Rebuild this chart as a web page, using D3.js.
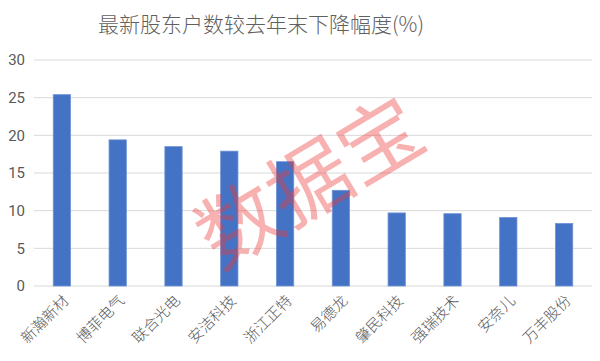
<!DOCTYPE html>
<html>
<head>
<meta charset="utf-8">
<script src="https://cdn.jsdelivr.net/npm/d3@7"></script>
<style>
  body { margin: 0; background: #fff; }
  svg { display: block; font-family: "Noto Sans CJK SC", "Noto Sans", sans-serif; }
</style>
</head>
<body>
<svg id="chart" width="600" height="361"></svg>
<script>
// data
const stocks = ["新瀚新材", "博菲电气", "联合光电", "安洁科技", "浙江正特", "易德龙", "肇民科技", "强瑞技术", "安奈儿", "万丰股份"];
const drops = [25.4, 19.4, 18.5, 17.9, 16.5, 12.7, 9.7, 9.6, 9.1, 8.3];
const yTicks = [0, 5, 10, 15, 20, 25, 30];

const svg = d3.select("#chart");
const margin = { top: 60, right: 8, bottom: 75, left: 34 };
const width = 600 - margin.left - margin.right;
const height = 361 - margin.top - margin.bottom;

const g = svg.append("g").attr("transform", `translate(${margin.left},${margin.top})`);

const x = d3.scaleBand().domain(stocks).range([0, width]).paddingInner(0.69).paddingOuter(0.345);
const y = d3.scaleLinear().domain([0, 30]).range([height, 0]);

// gridlines
g.append("g")
  .selectAll("line")
  .data(yTicks)
  .join("line")
  .attr("x1", 0)
  .attr("x2", width)
  .attr("y1", d => y(d))
  .attr("y2", d => y(d))
  .attr("stroke", "#d9d9d9")
  .attr("stroke-width", 1);

// y tick labels
g.append("g")
  .selectAll("text")
  .data(yTicks)
  .join("text")
  .attr("x", -9)
  .attr("y", d => y(d))
  .attr("dy", "0.35em")
  .attr("text-anchor", "end")
  .attr("fill", "#595959")
  .style("font-family", "Roboto, 'Noto Sans', sans-serif")
  .style("font-size", "15px")
  .text(d => d);

// bars
g.append("g")
  .selectAll("rect")
  .data(drops)
  .join("rect")
  .attr("x", (d, i) => x(stocks[i]))
  .attr("y", d => y(d))
  .attr("width", x.bandwidth())
  .attr("height", d => height - y(d))
  .attr("fill", "#4472c4")
  .attr("stroke", "#6f93d6")
  .attr("stroke-width", 0.8);

// x labels, rotated
g.append("g")
  .selectAll("text")
  .data(stocks)
  .join("text")
  .attr("transform", d => `translate(${x(d) + x.bandwidth() / 2 + 4},${height + 12}) rotate(-45)`)
  .attr("text-anchor", "end")
  .attr("dy", "0.35em")
  .attr("fill", "#595959")
  .style("font-size", "15px")
  .style("font-weight", 300)
  .text(d => d);

// title
svg.append("text")
  .attr("x", 261)
  .attr("y", 32)
  .attr("text-anchor", "middle")
  .attr("fill", "#606060")
  .style("font-size", "21px")
  .style("font-weight", 300)
  .text("最新股东户数较去年末下降幅度(%)");

// watermark
svg.append("text")
  .attr("transform", "translate(310,183) rotate(-31)")
  .attr("text-anchor", "middle")
  .attr("dy", "0.35em")
  .attr("fill", "rgba(238,60,60,0.4)")
  .style("font-size", "82px")
  .text("数据宝");
</script>
</body>
</html>
